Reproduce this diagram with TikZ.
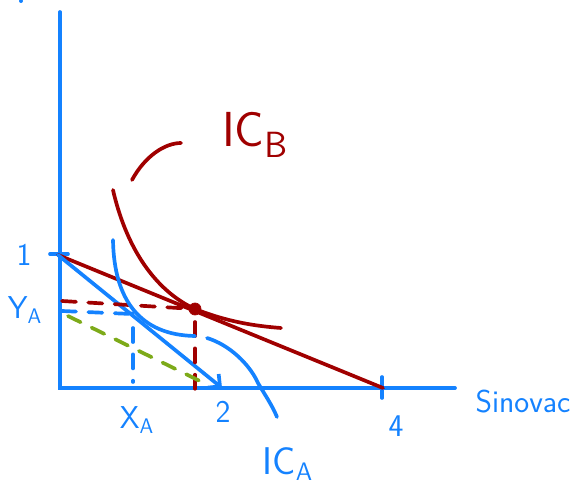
\documentclass[tikz,border=0pt]{standalone}
\usepackage{tikz}
\usetikzlibrary{arrows.meta}

\definecolor{penblue}{RGB}{20,130,255}
\definecolor{penred}{RGB}{160,0,0}
\definecolor{pengreen}{RGB}{125,170,25}

\tikzset{
    pen/.style={line width=2.1pt, line cap=round},
    dashpen/.style={pen, dash pattern=on 8pt off 7pt},
    lbl/.style={font=\sffamily\fontsize{18}{20}\selectfont, inner sep=0pt}
}

\begin{document}
\begin{tikzpicture}[x=0.02cm, y=-0.02cm]
    \useasboundingbox (0,0) rectangle (585,486);
    \coordinate (O) at (60,388);
    \coordinate (Ytop) at (60,12);
    \coordinate (Xend) at (455,388);
    \coordinate (One) at (58,255);
    \coordinate (Two) at (222,388);
    \coordinate (Four) at (383,388);
    \coordinate (A) at (132,314);
    \coordinate (B) at (195,309);

    % axes
    \draw[penblue, pen] (Ytop) -- (O) -- (Xend);
    \draw[penblue, pen] (50,254) -- (68,254);
    \draw[penblue, pen] (382,377) -- (382,398);
    \fill[penblue] (21,1) circle (2);

    % budget lines
    \draw[penred, pen] (One) -- (Four);
    \draw[penblue, pen, -{Straight Barb[length=5pt]}] (One) -- (Two);

    % dashed guides
    \draw[penred, dashpen] (62,301) -- (B);
    \draw[penred, dashpen] (195,322) -- (195,392);
    \draw[penblue, dashpen] (62,311) -- (A);
    \draw[penblue, dashpen] (133,328) -- (133,382);
    \draw[pengreen, dashpen] (68,316) -- (208,385);

    % indifference curves
    \draw[penred, pen] (113,190) .. controls (128,255) and (160,293) .. (B)
        .. controls (228,322) and (255,326) .. (281,328);
    \draw[penred, pen] (132,180) .. controls (145,156) and (165,143) .. (181,143);
    \draw[penblue, pen] (113,240) .. controls (114,300) and (140,335) .. (195,336);
    \draw[penblue, pen] (207,338) .. controls (230,345) and (250,365) .. (258,383)
        .. controls (265,395) and (272,405) .. (277,417);

    \filldraw[penred] (B) circle (6);
    \fill[penblue] (A) circle (2.5);

    % labels
    \node[lbl, penblue] at (24,255) {1};
    \node[lbl, penblue] at (25,310) {Y$_{\mathsf{A}}$};
    \node[lbl, penblue] at (137,420) {X$_{\mathsf{A}}$};
    \node[lbl, penblue] at (223,412) {2};
    \node[lbl, penblue] at (396,426) {4};
    \node[lbl, penblue] at (523,402) {Sinovac};
    \node[lbl, penblue, font=\sffamily\fontsize{22}{24}\selectfont] at (288,464) {IC$_{\mathsf{A}}$};
    \node[lbl, penred, font=\sffamily\fontsize{28}{30}\selectfont] at (255,135) {IC$_{\mathsf{B}}$};
\end{tikzpicture}
\end{document}
